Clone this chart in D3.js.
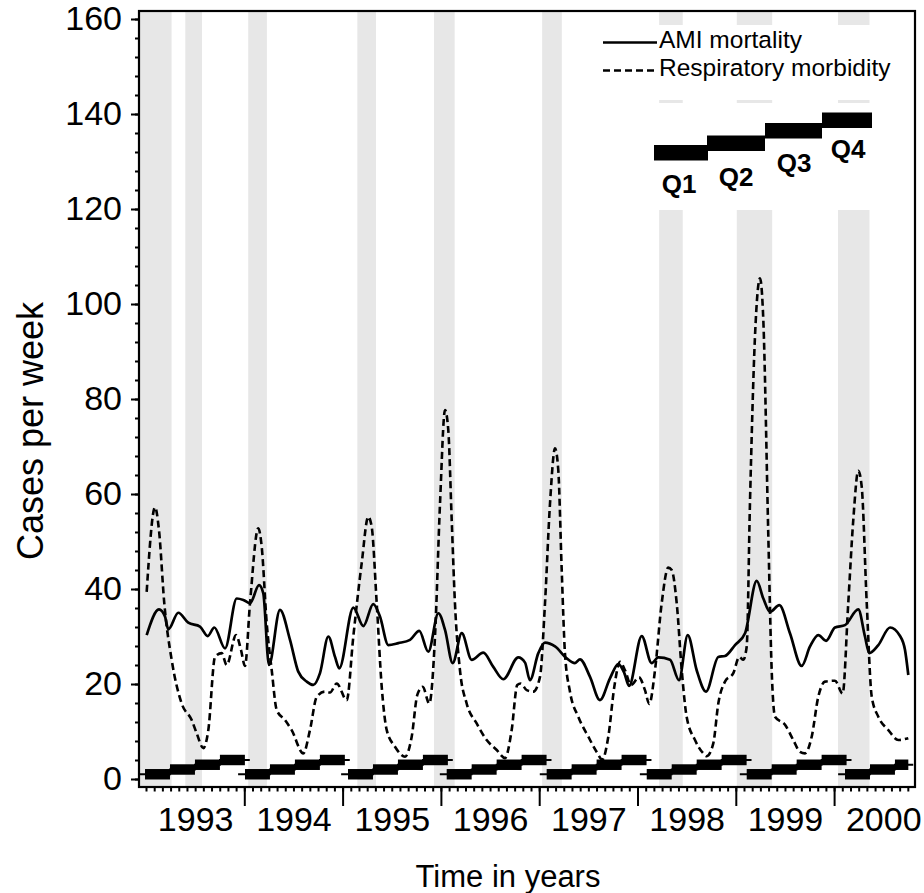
<!DOCTYPE html>
<html>
<head>
<meta charset="utf-8">
<script src="https://cdn.jsdelivr.net/npm/d3@7"></script>
<style>
body { margin: 0; background: #fff; }
svg { display: block; font-family: "Liberation Sans", Arial, Helvetica, sans-serif; }
</style>
</head>
<body>
<svg width="924" height="893"></svg>
<script>
// Weekly series: [decimal year, cases per week]
const amiMortality = [
    [1993.007,30.3],[1993.132,35.7],[1993.193,34.2],[1993.227,31.5],[1993.329,35.0],[1993.430,32.9],
    [1993.549,32.1],[1993.628,30.1],[1993.695,31.9],[1993.804,27.5],[1993.923,38.0],[1993.990,37.7],
    [1994.058,37.0],[1994.150,40.8],[1994.193,39.1],[1994.251,24.0],[1994.363,35.6],[1994.465,29.3],
    [1994.549,22.6],[1994.635,20.5],[1994.702,19.8],[1994.770,22.3],[1994.855,30.0],[1994.923,25.7],
    [1994.966,23.3],[1995.109,36.1],[1995.211,32.2],[1995.312,36.8],[1995.380,34.2],[1995.465,28.2],
    [1995.567,28.6],[1995.686,29.3],[1995.780,31.2],[1995.872,26.8],[1995.974,34.9],[1996.042,31.4],
    [1996.120,24.4],[1996.212,30.7],[1996.313,25.1],[1996.431,26.6],[1996.533,23.6],[1996.635,21.0],
    [1996.787,25.6],[1996.856,24.5],[1996.906,20.8],[1996.991,26.5],[1997.059,28.7],[1997.161,27.9],
    [1997.280,25.4],[1997.364,24.4],[1997.415,25.2],[1997.517,21.5],[1997.618,16.6],[1997.720,21.2],
    [1997.805,24.2],[1997.866,22.3],[1997.914,19.6],[1998.043,30.1],[1998.144,24.4],[1998.212,25.6],
    [1998.331,25.1],[1998.422,20.8],[1998.511,30.3],[1998.602,22.9],[1998.697,18.4],[1998.822,25.7],
    [1998.890,25.9],[1998.992,28.2],[1999.094,30.7],[1999.213,41.7],[1999.280,38.0],[1999.348,35.2],
    [1999.443,36.6],[1999.551,30.7],[1999.670,23.8],[1999.755,27.9],[1999.839,30.3],[1999.918,29.1],
    [2000.009,31.9],[2000.111,32.4],[2000.246,35.7],[2000.314,30.0],[2000.358,26.5],[2000.450,28.2],
    [2000.569,31.9],[2000.671,30.1],[2000.721,27.2],[2000.755,21.9]
];

const respiratoryMorbidity = [
    [1993.007,39.4],[1993.092,57.2],[1993.132,52.4],[1993.186,37.0],[1993.261,25.1],[1993.363,15.9],
    [1993.465,12.4],[1993.516,9.6],[1993.583,6.5],[1993.634,10.3],[1993.702,25.7],[1993.770,26.5],
    [1993.821,24.0],[1993.916,30.3],[1993.966,27.2],[1994.007,23.8],[1994.058,37.0],[1994.142,52.8],
    [1994.177,48.9],[1994.228,32.8],[1994.279,22.9],[1994.330,14.5],[1994.414,12.4],[1994.482,10.3],
    [1994.600,5.4],[1994.668,10.3],[1994.737,17.3],[1994.821,18.4],[1994.872,18.2],[1994.940,20.1],
    [1995.042,16.6],[1995.109,30.0],[1995.194,45.4],[1995.261,55.2],[1995.296,53.1],[1995.347,37.0],
    [1995.398,19.4],[1995.449,10.3],[1995.533,6.8],[1995.635,4.7],[1995.703,8.9],[1995.760,17.7],
    [1995.815,19.4],[1995.882,15.9],[1995.940,30.0],[1995.991,58.0],[1996.042,77.7],[1996.075,73.5],
    [1996.110,54.5],[1996.143,37.0],[1996.194,22.9],[1996.262,15.9],[1996.364,11.7],[1996.466,8.2],
    [1996.568,6.1],[1996.652,4.4],[1996.720,10.3],[1996.777,19.8],[1996.812,20.1],[1996.873,18.7],
    [1996.940,18.4],[1997.008,21.5],[1997.059,37.0],[1997.110,58.0],[1997.161,69.6],[1997.194,65.1],
    [1997.229,44.0],[1997.262,26.5],[1997.313,18.4],[1997.398,13.1],[1997.500,8.9],[1997.585,5.7],
    [1997.642,4.1],[1997.703,8.9],[1997.764,19.4],[1997.822,24.7],[1997.873,22.9],[1997.934,19.8],
    [1998.015,21.4],[1998.076,18.7],[1998.120,15.8],[1998.178,22.9],[1998.246,37.0],[1998.313,44.5],
    [1998.348,44.0],[1998.399,37.0],[1998.450,22.9],[1998.500,13.1],[1998.585,8.2],[1998.669,5.4],
    [1998.704,4.8],[1998.771,7.5],[1998.822,15.9],[1998.890,20.5],[1998.975,22.3],[1999.036,25.7],
    [1999.076,25.1],[1999.111,27.9],[1999.144,58.0],[1999.195,93.1],[1999.246,105.4],[1999.280,96.6],
    [1999.331,51.0],[1999.365,22.9],[1999.399,13.1],[1999.501,11.4],[1999.585,8.2],[1999.653,5.7],
    [1999.704,5.4],[1999.772,8.9],[1999.839,17.3],[1999.907,20.5],[2000.009,20.7],[2000.087,18.0],
    [2000.144,37.0],[2000.195,54.5],[2000.246,64.9],[2000.281,61.5],[2000.332,37.0],[2000.383,17.3],
    [2000.450,13.1],[2000.552,10.3],[2000.653,8.2],[2000.755,8.6]
];

// Shaded periods (start, end in decimal years)
const shadedPeriods = [
    [1992.93, 1993.26], [1993.40, 1993.57], [1994.04, 1994.23], [1995.15, 1995.34], [1995.93, 1996.14],
    [1997.03, 1997.23], [1998.22, 1998.46], [1999.01, 1999.37], [2000.04, 2000.36]
];

// Quarter indicator: start of each year's Q1 bar, level of each quarter
const quarterStarts = [1992.990, 1994.007, 1995.055, 1996.059, 1997.076, 1998.094, 1999.111, 2000.111];
const quarterLevels = [1, 2, 3, 4];
const quarterLength = 0.254;
const dataEnd = 2000.755;

const years = [1993, 1994, 1995, 1996, 1997, 1998, 1999, 2000];
const yearBoundaries = [1994, 1995, 1996, 1997, 1998, 1999, 2000];
const yTicks = [0, 20, 40, 60, 80, 100, 120, 140, 160];
const legendQuarters = ["Q1", "Q2", "Q3", "Q4"];

const svg = d3.select("svg");

const x = d3.scaleLinear().domain([1992.9288, 2000.823]).range([139, 915]);
const y = d3.scaleLinear().domain([-1.684, 161.684]).range([787, 11]);

// Shaded bands
svg.append("g").selectAll("rect")
    .data(shadedPeriods)
    .enter().append("rect")
    .attr("x", d => x(d[0]))
    .attr("width", d => x(d[1]) - x(d[0]))
    .attr("y", 11)
    .attr("height", 776)
    .attr("fill", "#e7e7e7");

// White legend boxes sit on top of the bands
svg.append("rect").attr("x", 598).attr("y", 25).attr("width", 315).attr("height", 75).attr("fill", "#fff");
svg.append("rect").attr("x", 598).attr("y", 103).attr("width", 315).attr("height", 107).attr("fill", "#fff");

// Quarter bars
const quarterBars = [];
const quarterSteps = [];
quarterStarts.forEach(s => {
    const pts = [[s - 0.07, quarterLevels[0]]];
    let lastEnd = s, lastLevel = quarterLevels[0];
    quarterLevels.forEach((lvl, q) => {
        const qs = s + q * quarterLength;
        if (qs >= dataEnd) return;
        const qe = Math.min(qs + quarterLength, dataEnd);
        quarterBars.push({ start: qs, end: qe, level: lvl });
        if (q > 0) pts.push([qs, lvl]);
        lastEnd = qe;
        lastLevel = lvl;
    });
    pts.push([lastEnd + 0.05, lastLevel]);
    quarterSteps.push(pts);
});

svg.append("g").selectAll("path")
    .data(quarterSteps)
    .enter().append("path")
    .attr("d", d3.line().x(d => x(d[0])).y(d => y(d[1])).curve(d3.curveStepAfter))
    .attr("fill", "none")
    .attr("stroke", "#000")
    .attr("stroke-width", 1.8);

svg.append("g").selectAll("rect")
    .data(quarterBars)
    .enter().append("rect")
    .attr("x", d => x(d.start))
    .attr("width", d => x(d.end) - x(d.start))
    .attr("y", d => y(d.level + 1.1))
    .attr("height", d => y(d.level - 1.1) - y(d.level + 1.1))
    .attr("fill", "#000");

// Series lines
const line = d3.line()
    .x(d => x(d[0]))
    .y(d => y(d[1]))
    .curve(d3.curveMonotoneX);

svg.append("path")
    .datum(respiratoryMorbidity)
    .attr("d", line)
    .attr("fill", "none")
    .attr("stroke", "#000")
    .attr("stroke-width", 2.6)
    .attr("stroke-dasharray", "7,4");

svg.append("path")
    .datum(amiMortality)
    .attr("d", line)
    .attr("fill", "none")
    .attr("stroke", "#000")
    .attr("stroke-width", 2.7);

// Frame
svg.append("rect")
    .attr("x", 139).attr("y", 11)
    .attr("width", 776).attr("height", 776)
    .attr("fill", "none")
    .attr("stroke", "#000")
    .attr("stroke-width", 2.2);

// Y axis
const yMajor = svg.append("g")
    .attr("transform", "translate(139,0)")
    .call(d3.axisLeft(y).tickValues(yTicks).tickSize(8).tickPadding(9));
const yMinor = svg.append("g")
    .attr("transform", "translate(139,0)")
    .call(d3.axisLeft(y).tickValues(d3.range(0, 161, 4)).tickSize(4).tickFormat(""));

// X axis: long ticks at year boundaries, monthly minor ticks, labels mid-year
const xMajor = svg.append("g")
    .attr("transform", "translate(0,787)")
    .call(d3.axisBottom(x).tickValues(yearBoundaries).tickSize(19).tickFormat(""));
const xMinor = svg.append("g")
    .attr("transform", "translate(0,787)")
    .call(d3.axisBottom(x).tickValues(d3.range(0, 94).map(i => 1993 + i / 12)).tickSize(4.5).tickFormat(""));
const xLabels = svg.append("g")
    .attr("transform", "translate(0,787)")
    .call(d3.axisBottom(x).tickValues(years.map(d => d + 0.5)).tickSize(0).tickPadding(20)
        .tickFormat(d => String(Math.floor(d))));

[yMajor, yMinor, xMajor, xMinor, xLabels].forEach(a => {
    a.select(".domain").remove();
    a.selectAll("line").attr("stroke", "#000").attr("stroke-width", 2);
    a.selectAll("text").attr("font-size", 34).attr("fill", "#000").attr("font-family", null);
});

// Axis titles
svg.append("text")
    .attr("transform", "translate(43,431) rotate(-90)")
    .attr("text-anchor", "middle")
    .attr("font-size", 36)
    .attr("fill", "#000")
    .text("Cases per week");

svg.append("text")
    .attr("x", 508).attr("y", 887)
    .attr("text-anchor", "middle")
    .attr("font-size", 31)
    .attr("fill", "#000")
    .text("Time in years");

// Legend: line styles
const legend = svg.append("g");
legend.append("line").attr("x1", 603).attr("x2", 657).attr("y1", 42.5).attr("y2", 42.5)
    .attr("stroke", "#000").attr("stroke-width", 2.4);
legend.append("line").attr("x1", 603).attr("x2", 657).attr("y1", 70.5).attr("y2", 70.5)
    .attr("stroke", "#000").attr("stroke-width", 2.4).attr("stroke-dasharray", "7,4");
legend.append("text").attr("x", 659).attr("y", 48).attr("font-size", 24.5).attr("fill", "#000").text("AMI mortality");
legend.append("text").attr("x", 659).attr("y", 76).attr("font-size", 24.5).attr("fill", "#000").text("Respiratory morbidity");

// Legend: quarter staircase
const legendBars = [
    { x: 654, w: 54, y: 145 },
    { x: 707, w: 58, y: 135.5 },
    { x: 765, w: 57, y: 123 },
    { x: 822, w: 50, y: 112.5 }
];
const legendLabelPos = [[679, 193], [736, 186], [794, 172], [848, 158]];
legend.selectAll(".qbar")
    .data(legendBars)
    .enter().append("rect")
    .attr("class", "qbar")
    .attr("x", d => d.x).attr("y", d => d.y)
    .attr("width", d => d.w).attr("height", 15.5)
    .attr("fill", "#000");
legend.selectAll(".qlabel")
    .data(legendQuarters)
    .enter().append("text")
    .attr("class", "qlabel")
    .attr("x", (d, i) => legendLabelPos[i][0])
    .attr("y", (d, i) => legendLabelPos[i][1])
    .attr("text-anchor", "middle")
    .attr("font-size", 26)
    .attr("font-weight", "bold")
    .attr("fill", "#000")
    .text(d => d);
</script>
</body>
</html>
